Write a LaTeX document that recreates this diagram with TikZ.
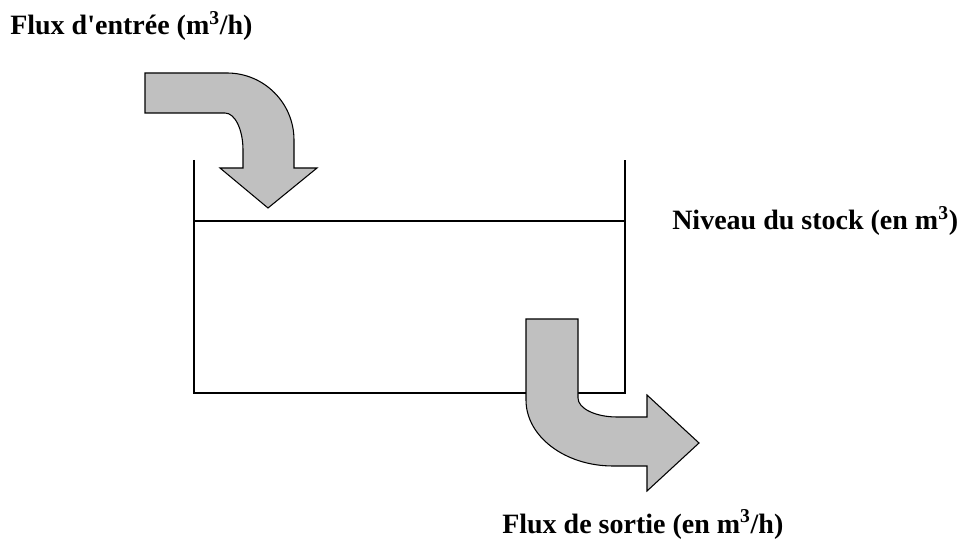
\documentclass[tikz,border=0pt]{standalone}
\usepackage{fontspec}
\newfontfamily\lblfont{Liberation Serif}
\definecolor{silvergray}{HTML}{C0C0C0}
\begin{document}
\begin{tikzpicture}[x=0.75pt,y=-0.75pt,
  tankline/.style={draw=black, line width=0.8pt},
  flowarrow/.style={fill=silvergray, draw=black, line width=0.8pt, line join=miter},
  lbl/.style={inner sep=0pt, anchor=base west, font=\lblfont\bfseries\fontsize{21}{25}\selectfont}]
\useasboundingbox (0,0) rectangle (960,541);
% tank
\coordinate (tl) at (194,160);
\coordinate (tr) at (625,160);
\coordinate (bl) at (194,393);
\coordinate (br) at (625,393);
\coordinate (ll) at (194,221);
\coordinate (lr) at (625,221);
\draw[tankline] (tl) -- (bl) -- (br) -- (tr);
\draw[tankline] (ll) -- (lr);
% inflow arrow
\draw[flowarrow] (145,73) -- (227,73)
  .. controls (264,73) and (294,103) .. (294,140)
  -- (294,168) -- (317,168) -- (268,208) -- (220,168) -- (243,168) -- (243,150)
  .. controls (243,129.6) and (235,113) .. (225,113)
  -- (145,113) -- cycle;
% outflow arrow
\draw[flowarrow] (526,319) -- (578,319) -- (578,398)
  .. controls (578,408.5) and (595.5,417) .. (617,417)
  -- (647,417) -- (647,395) -- (699,443) -- (647,491) -- (647,466) -- (613,466)
  .. controls (565,466) and (526,436.5) .. (526,400)
  -- cycle;
% labels
\node[lbl] (inflow) at (10,35) {Flux d'entrée (m\textsuperscript{3}/h)};
\node[lbl] (level) at (672,230) {Niveau du stock (en m\textsuperscript{3})};
\node[lbl] (outflow) at (502,533) {Flux de sortie (en m\textsuperscript{3}/h)};
\end{tikzpicture}
\end{document}
